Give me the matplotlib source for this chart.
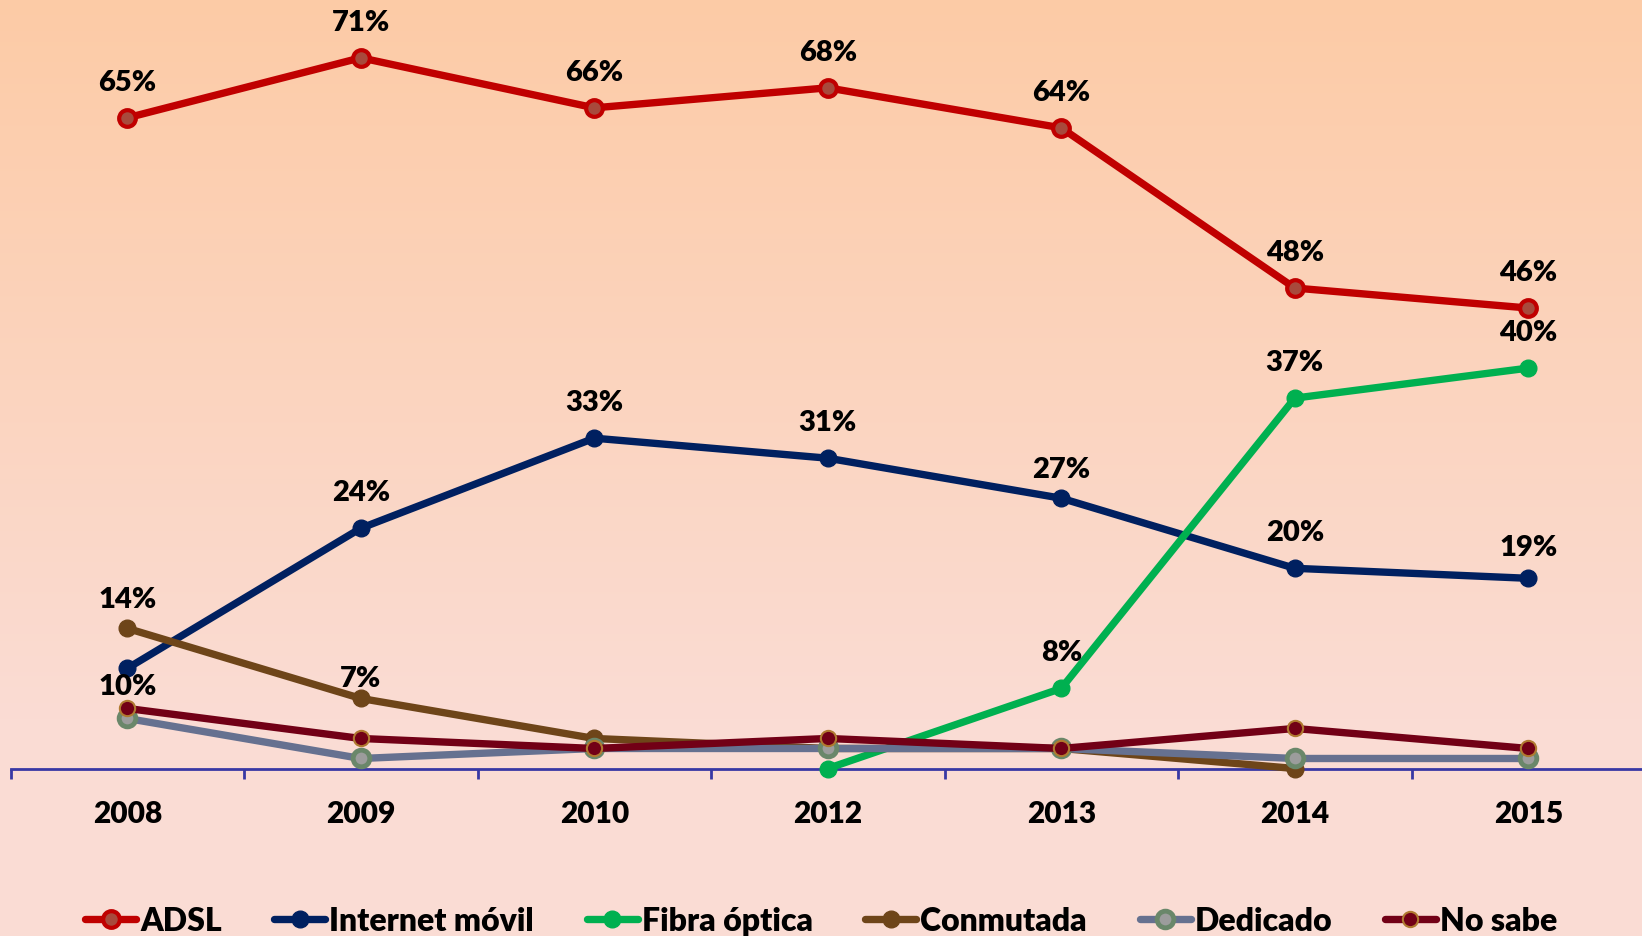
import numpy as np
import matplotlib
matplotlib.use("Agg")
import matplotlib.pyplot as plt

plt.rcParams['font.family'] = ['Lato', 'DejaVu Sans']

years = ["2008", "2009", "2010", "2012", "2013", "2014", "2015"]
adsl = [65, 71, 66, 68, 64, 48, 46]
movil = [10, 24, 33, 31, 27, 20, 19]
fibra = [np.nan, np.nan, np.nan, 0, 8, 37, 40]
conmutada = [14, 7, 3, 2, 2, 0, np.nan]
dedicado = [5, 1, 2, 2, 2, 1, 1]
nosabe = [6, 3, 2, 3, 2, 4, 2]
series_names = ["ADSL", "Internet móvil", "Fibra óptica", "Conmutada", "Dedicado", "No sabe"]

# labels shown: per series, vertical pixel offset of each point label (None = no label)
label_offsets = {
    0: [36, 36, 36, 36, 36, 36, 36],
    1: [-18, 36, 36, 36, 29, 36, 31],
    2: [None, None, None, None, 36, 36, 36],
    3: [29, 20, None, None, None, None, None],
}

W, H = 1642, 937
fig = plt.figure(figsize=(W / 100, H / 100), dpi=100)

# background gradient
bg = fig.add_axes([0, 0, 1, 1], zorder=-10)
bg.set_axis_off()
top = np.array([253, 203, 166]) / 255
bot = np.array([250, 220, 212]) / 255
rows = np.linspace(0, 1, H)
t = np.clip(rows / (720 / H), 0, 1)
grad = top[None, :] * (1 - t[:, None]) + bot[None, :] * t[:, None]
img = np.repeat(grad[:, None, :], 10, axis=1)
bg.imshow(img, aspect='auto', extent=[0, 1, 0, 1], origin='upper')
bg.set_xlim(0, 1)
bg.set_ylim(0, 1)

ax = fig.add_axes([10.5 / W, (H - 769.5) / H, (W - 10.5) / W, 769.5 / H])
ax.patch.set_alpha(0)

x = np.arange(len(years))
styles = [
    dict(color="#C00000", mfc="#A84A3C", mec="#C00000", ms=12, mew=3),
    dict(color="#002060", mfc="#002060", mec="#002060", ms=12, mew=1),
    dict(color="#00B050", mfc="#00B050", mec="#00B050", ms=12, mew=1),
    dict(color="#6E4519", mfc="#6E4519", mec="#6E4519", ms=12, mew=1),
    dict(color="#667190", mfc="#9C9C9C", mec="#6A876A", ms=12, mew=3.5),
    dict(color="#720016", mfc="#720016", mec="#B07A30", ms=11, mew=1.5),
]
all_series = [adsl, movil, fibra, conmutada, dedicado, nosabe]
for i, (vals, name, st) in enumerate(zip(all_series, series_names, styles)):
    ax.plot(x, vals, marker='o', lw=5.3, label=name, clip_on=False,
            zorder=3 + i, solid_capstyle='round', **st)

for si, offs in label_offsets.items():
    vals = all_series[si]
    for pi, off in enumerate(offs):
        if off is None:
            continue
        ax.annotate(f"{vals[pi]:.0f}%", (x[pi], vals[pi]), xytext=(0, off),
                    textcoords='offset pixels', ha='center', va='center',
                    fontsize=21, fontweight='heavy', color='black', zorder=20)

ax.set_xlim(-0.5, -0.5 + (W - 10.5) / 233.5)
ax.set_ylim(0, 769.5 / 10.01)
for s in ['top', 'right', 'left']:
    ax.spines[s].set_visible(False)
ax.spines['bottom'].set_color('#3838A4')
ax.spines['bottom'].set_linewidth(2)
ax.set_yticks([])
ax.set_xticks(np.arange(-0.5, 6.5, 1.0))
ax.set_xticklabels([])
ax.tick_params(axis='x', which='major', length=7.5, width=2, color='#3838A4', direction='out')
ax.set_xticks(x, minor=True)
ax.set_xticklabels(years, minor=True, fontsize=21.5, fontweight='heavy')
ax.tick_params(axis='x', which='minor', length=0, pad=22)

leg = fig.legend(loc='center', bbox_to_anchor=(0.5, (H - 922) / H), ncol=6, frameon=False,
                 handlelength=1.6, handletextpad=0.12, columnspacing=1.65,
                 prop=dict(size=23, weight='heavy'), borderaxespad=0)

fig.savefig("out.png", dpi=100)
